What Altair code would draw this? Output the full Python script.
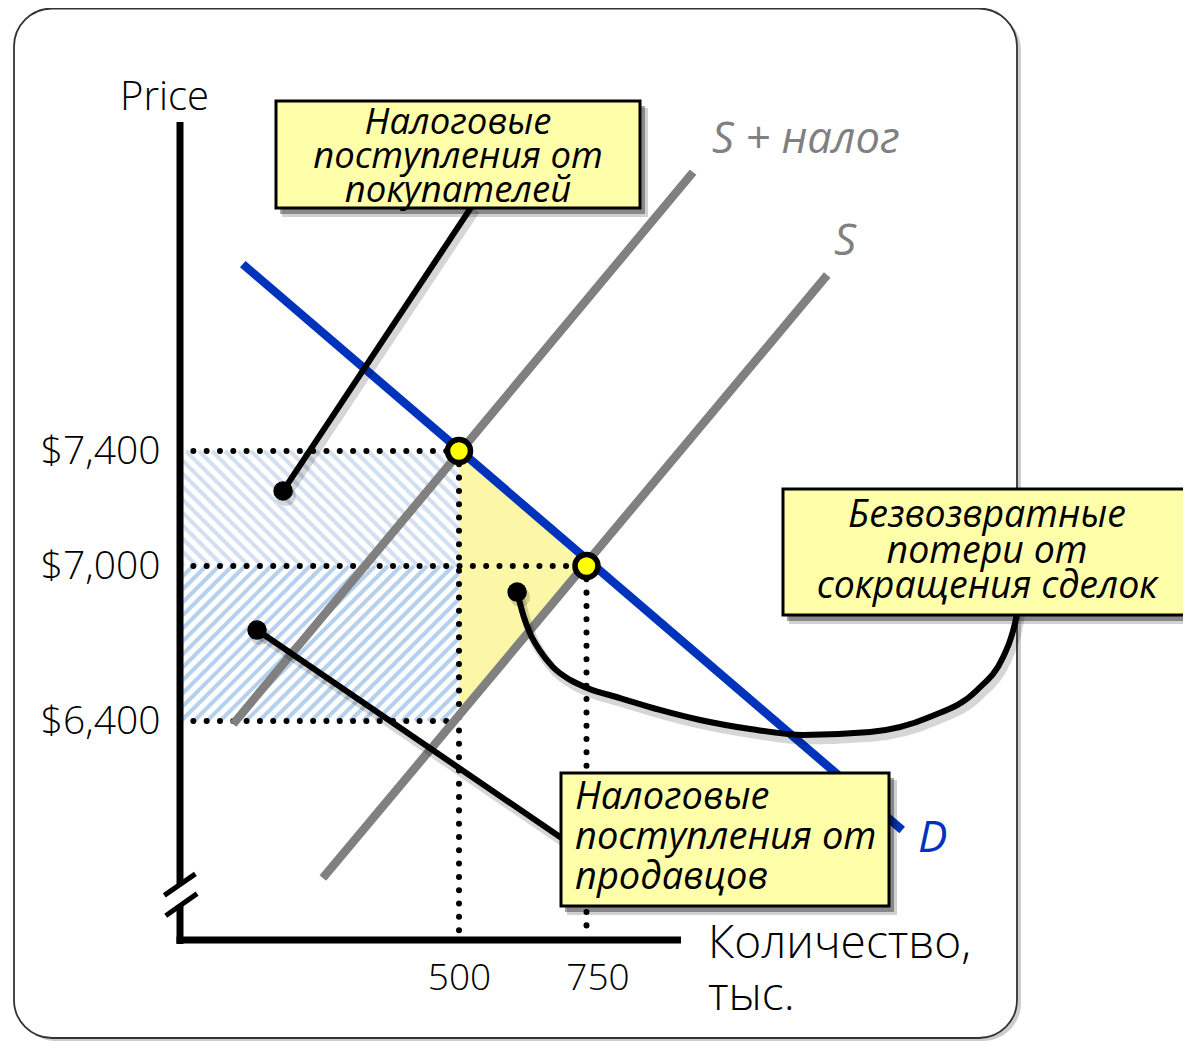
import altair as alt
import pandas as pd

# ---------------- scales (diagram is schematic: price axis is piecewise) -------------
X_DOMAIN = [500, 750]
X_RANGE = [451, 578.5]
Y_DOMAIN = [6400, 7000, 7400]
Y_RANGE = [713, 558, 443]

# ---------------- data ----------------
quantity_ticks = [500, 750]
price_ticks = [6400, 7000, 7400]

demand_q = [76, 1369]
demand_p = [8050, 5978]
supply_q = [233, 1222]
supply_p = [5792, 8012]
supply_tax_q = [57, 959]
supply_tax_p = [6388, 8370]

equilibrium_q = [500, 750]
equilibrium_p = [7400, 7000]

deadweight_q = [500, 750]
deadweight_top = [7400, 7000]
deadweight_bottom = [6422, 7000]

axis_q = -47          # quantity at which the vertical axis stands
axis_floor_p = 5576   # price level of the horizontal axis

guide_q = [axis_q, axis_q, axis_q, 500, 750]
guide_q2 = [500, 750, 500, 500, 750]
guide_p = [7400, 7000, 6400, 7400, 7000]
guide_p2 = [7400, 7000, 6400, axis_floor_p, axis_floor_p]

buyers_q = [axis_q, 500]
buyers_p = [7000, 7400]
sellers_q = [axis_q, 500]
sellers_p = [6400, 7000]

callout_q = [527, 104]
callout_p = [8256, 6752]
callout_q2 = [155, 727]
callout_p2 = [7261, 5912]
callout_dot_q = [155, 104, 614]
callout_dot_p = [7261, 6752, 6899]
curve_q = [614, 626, 639, 659, 684, 718, 751, 816, 894, 973, 1071, 1175,
           1306, 1424, 1516, 1567, 1584, 1594, 1596]
curve_p = [6899, 6810, 6741, 6671, 6609, 6559, 6528, 6489, 6443, 6404, 6369,
           6346, 6357, 6416, 6520, 6648, 6733, 6818, 6849]

FONT = "Open Sans"
GRAY = "#808080"
BLUE = "#0033bb"
BOX_FILL = "#ffffaa"

XS = alt.Scale(domain=X_DOMAIN, range=X_RANGE, nice=False, zero=False)
YS = alt.Scale(domain=Y_DOMAIN, range=Y_RANGE, nice=False, zero=False)

X_AX = alt.Axis(values=quantity_ticks, orient="bottom", offset=-101, domain=False,
                ticks=False, tickSize=0, grid=False, labelPadding=20, labelFont=FONT,
                labelFontSize=37, labelFontWeight=300, labelColor="black",
                labelOffset={"condition": {"test": "datum.value === 750", "value": 11},
                             "value": 0},
                labelFlush=False, title=None, zindex=1)
Y_AX = alt.Axis(values=price_ticks, orient="left", offset=-172, format="$,.0f",
                domain=False, ticks=False, tickSize=0, grid=False, labelPadding=20,
                labelFont=FONT, labelFontSize=39, labelFontWeight=300,
                labelColor="black", title=None, zindex=1)


def X(f="q"):
    return alt.X(f"{f}:Q", scale=XS, axis=X_AX)


def Y(f="p"):
    return alt.Y(f"{f}:Q", scale=YS, axis=Y_AX)


# scale helpers, used only to lay the hatch texture at 45 degrees on screen
def px(q):
    (d0, d1), (r0, r1) = X_DOMAIN, X_RANGE
    return r0 + (q - d0) * (r1 - r0) / (d1 - d0)


def py(p):
    i = 0 if p <= Y_DOMAIN[1] else 1
    d0, d1, r0, r1 = Y_DOMAIN[i], Y_DOMAIN[i + 1], Y_RANGE[i], Y_RANGE[i + 1]
    return r0 + (p - d0) * (r1 - r0) / (d1 - d0)


def q_of(vx):
    (d0, d1), (r0, r1) = X_DOMAIN, X_RANGE
    return d0 + (vx - r0) * (d1 - d0) / (r1 - r0)


def p_of(vy, seg):
    d0, d1, r0, r1 = Y_DOMAIN[seg], Y_DOMAIN[seg + 1], Y_RANGE[seg], Y_RANGE[seg + 1]
    return d0 + (vy - r0) * (d1 - d0) / (r1 - r0)


def hatch(qs, ps, direction, seg, step=13.0):
    x0, x1 = px(qs[0]), px(qs[1])
    y0, y1 = py(ps[1]), py(ps[0])
    rows = []
    if direction == "back":   # "\" stripes: y = x + c
        c = y0 - x1
        while c < y1 - x0:
            xa, xb = max(x0, y0 - c), min(x1, y1 - c)
            if xb > xa:
                rows.append(dict(q=q_of(xa), p=p_of(xa + c, seg),
                                 q2=q_of(xb), p2=p_of(xb + c, seg)))
            c += step
    else:                     # "/" stripes: y = -x + c
        c = x0 + y0
        while c < x1 + y1:
            xa, xb = max(x0, c - y1), min(x1, c - y0)
            if xb > xa:
                rows.append(dict(q=q_of(xa), p=p_of(c - xa, seg),
                                 q2=q_of(xb), p2=p_of(c - xb, seg)))
            c += step
    return pd.DataFrame(rows)


ONE = pd.DataFrame({"k": [0]})
layers = []

# frame
layers.append(alt.Chart(ONE).mark_rect(cornerRadius=38, fill="#b8b8b8", opacity=0.7).encode(
    x=alt.value(10), x2=alt.value(1013), y=alt.value(4), y2=alt.value(1033)))
layers.append(alt.Chart(ONE).mark_rect(cornerRadius=38, fill="white", stroke="#333333",
                                       strokeWidth=1.8).encode(
    x=alt.value(6), x2=alt.value(1009), y=alt.value(0.5), y2=alt.value(1030)))

# hatched tax revenue areas
layers.append(alt.Chart(hatch(buyers_q, buyers_p, "back", 1)).mark_rule(
    color="#d3e0f2", strokeWidth=4).encode(x=X(), x2="q2:Q", y=Y(), y2="p2:Q"))
layers.append(alt.Chart(hatch(sellers_q, sellers_p, "fwd", 0)).mark_rule(
    color="#b5d1ee", strokeWidth=4).encode(x=X(), x2="q2:Q", y=Y(), y2="p2:Q"))

# deadweight loss triangle
dw = pd.DataFrame({"q": deadweight_q, "p": deadweight_top, "p2": deadweight_bottom})
layers.append(alt.Chart(dw).mark_area(color="#fbf7a6", opacity=1).encode(
    x=X(), y=Y(), y2="p2:Q"))

# dotted guides
guides = pd.DataFrame({"q": guide_q, "q2": guide_q2, "p": guide_p, "p2": guide_p2})
layers.append(alt.Chart(guides).mark_rule(color="black", strokeWidth=6, strokeCap="round",
                                          strokeDash=[0.01, 13.3]).encode(
    x=X(), x2="q2:Q", y=Y(), y2="p2:Q"))

# supply curves and demand
for qs, ps, col in [(supply_tax_q, supply_tax_p, GRAY), (supply_q, supply_p, GRAY),
                    (demand_q, demand_p, BLUE)]:
    layers.append(alt.Chart(pd.DataFrame({"q": qs, "p": ps})).mark_line(
        color=col, strokeWidth=8.5, strokeCap="butt").encode(x=X(), y=Y()))

# axes with break
axis_segments = [(172, 172, 114, 876.5), (172, 172, 897.5, 936), (168.5, 673, 932, 932)]
for a, b, c, d in axis_segments:
    layers.append(alt.Chart(ONE).mark_rule(color="black", strokeWidth=7).encode(
        x=alt.value(a), x2=alt.value(b), y=alt.value(c), y2=alt.value(d)))
for a, b, c, d in [(156.3, 187.4, 887.4, 865.9), (157.7, 189.1, 907.7, 885.6)]:
    layers.append(alt.Chart(ONE).mark_rule(color="black", strokeWidth=5).encode(
        x=alt.value(a), x2=alt.value(b), y=alt.value(c), y2=alt.value(d)))

# callout leaders
callouts = pd.DataFrame({"q": callout_q, "p": callout_p, "q2": callout_q2, "p2": callout_p2})
curve = pd.DataFrame({"q": curve_q, "p": curve_p, "o": list(range(len(curve_q)))})
dots = pd.DataFrame({"q": callout_dot_q, "p": callout_dot_p})
layers.append(alt.Chart(callouts).mark_rule(color="black", opacity=0.16, strokeWidth=9,
                                            xOffset=3, x2Offset=3, yOffset=5, y2Offset=5).encode(
    x=X(), x2="q2:Q", y=Y(), y2="p2:Q"))
layers.append(alt.Chart(curve).mark_line(color="black", opacity=0.16, strokeWidth=9,
                                         interpolate="monotone", xOffset=3, yOffset=5).encode(
    x=X(), y=Y(), order="o:Q"))
layers.append(alt.Chart(dots).mark_circle(color="black", size=400, opacity=0.16,
                                          xOffset=3, yOffset=5).encode(x=X(), y=Y()))
layers.append(alt.Chart(callouts).mark_rule(color="black", strokeWidth=6).encode(
    x=X(), x2="q2:Q", y=Y(), y2="p2:Q"))
layers.append(alt.Chart(curve).mark_line(color="black", strokeWidth=6,
                                         interpolate="monotone").encode(
    x=X(), y=Y(), order="o:Q"))
layers.append(alt.Chart(dots).mark_circle(color="black", size=380, opacity=1).encode(
    x=X(), y=Y()))


# boxes
def box(x0, x1, y0, y1, lines, tx, ty, lh, size, align):
    out = [
        alt.Chart(ONE).mark_rect(fill="#000000", opacity=0.18).encode(
            x=alt.value(x0 + 6), x2=alt.value(x1 + 8), y=alt.value(y0 + 7), y2=alt.value(y1 + 9)),
        alt.Chart(ONE).mark_rect(fill="#000000", opacity=0.35).encode(
            x=alt.value(x0 + 4), x2=alt.value(x1 + 5), y=alt.value(y0 + 5), y2=alt.value(y1 + 6)),
        alt.Chart(ONE).mark_rect(fill=BOX_FILL, stroke="black", strokeWidth=3).encode(
            x=alt.value(x0), x2=alt.value(x1), y=alt.value(y0), y2=alt.value(y1)),
        alt.Chart(ONE).mark_text(text=lines, font=FONT, fontStyle="italic", fontSize=size,
                                 lineHeight=lh, align=align, baseline="alphabetic",
                                 color="black").encode(x=alt.value(tx), y=alt.value(ty)),
    ]
    return out


layers += box(268, 632, 93, 200, ["Налоговые", "поступления от", "покупателей"],
              450, 126, 34, 36.5, "center")
layers += box(775, 1210, 481, 607, ["Безвозвратные", "потери от", "сокращения сделок"],
              979, 519, 35.5, 37.5, "center")
layers += box(553, 881, 765, 898, ["Налоговые", "поступления от", "продавцов"],
              567, 801, 40, 38, "left")

# equilibrium points
eq = pd.DataFrame({"q": equilibrium_q, "p": equilibrium_p})
layers.append(alt.Chart(eq).mark_circle(color="#ffff00", stroke="black", strokeWidth=5.5,
                                        size=530, opacity=1).encode(x=X(), y=Y()))


# labels
def label(txt, x, y, size, color="black", style="normal", weight=400, lh=None):
    kw = dict(text=txt, font=FONT, fontSize=size, fontStyle=style, fontWeight=weight,
              color=color, align="left", baseline="alphabetic")
    if lh:
        kw["lineHeight"] = lh
    return alt.Chart(ONE).mark_text(**kw).encode(x=alt.value(x), y=alt.value(y))


layers.append(label("Price", 112, 102, 40, weight=300))
layers.append(label("S + налог", 704, 145, 43.5, color=GRAY, style="italic"))
layers.append(label("S", 826, 247, 44, color=GRAY, style="italic"))
layers.append(label("D", 910, 844, 44, color=BLUE, style="italic"))
layers.append(label(["Количество,", "тыс."], 700, 950, 46, weight=300, lh=52))

chart = alt.layer(*layers).properties(
    width=1175, height=1033, padding=0, autosize="none", background="white"
).configure_view(stroke=None)

chart.save("out.html", embed_options={"renderer": "svg", "actions": False})
